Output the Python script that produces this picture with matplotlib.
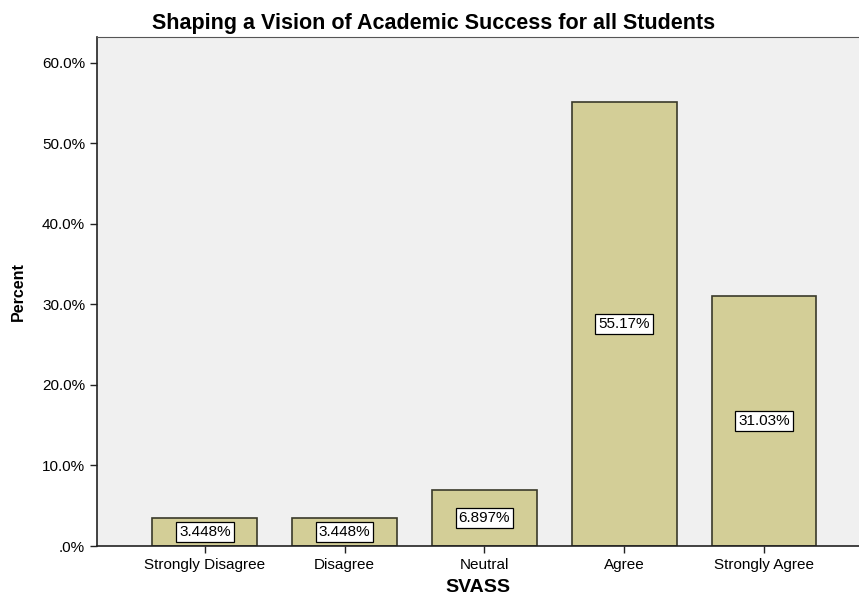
import matplotlib
matplotlib.use("Agg")
import matplotlib.pyplot as plt
from matplotlib.ticker import FuncFormatter

categories = ["Strongly Disagree", "Disagree", "Neutral", "Agree", "Strongly Agree"]
percents = [3.448, 3.448, 6.897, 55.17, 31.03]
bar_labels = ["3.448%", "3.448%", "6.897%", "55.17%", "31.03%"]
y_ticks = [0, 10, 20, 30, 40, 50, 60]

plt.rcParams["font.family"] = ["Liberation Sans", "DejaVu Sans"]


def pct_label(v, pos):
    if v == 0:
        return ".0%"
    return "%.1f%%" % v


def main():
    fig = plt.figure(figsize=(8.59, 5.99), dpi=100)
    ax = fig.add_axes([97 / 859, 53 / 599, 1 - 97 / 859, 509 / 599])
    ax.set_facecolor("#f0f0f0")

    x = list(range(len(categories)))
    ax.bar(x, percents, width=0.75, color="#d3ce97", edgecolor="#3a3a2a",
           linewidth=1.2, zorder=2)
    for i, v in enumerate(percents):
        ax.text(i, v / 2, bar_labels[i], ha="center", va="center", fontsize=11,
                zorder=3,
                bbox=dict(boxstyle="square,pad=0.2", fc="white", ec="black",
                          lw=0.9))

    ax.set_xlim(-0.771, 4.679)
    ax.set_ylim(0, 63.2)
    ax.set_yticks(y_ticks)
    ax.yaxis.set_major_formatter(FuncFormatter(pct_label))
    ax.set_xticks(x)
    ax.set_xticklabels(categories)
    ax.tick_params(axis="both", labelsize=11, length=5, width=1, color="#222222")

    ax.spines["right"].set_visible(False)
    ax.spines["top"].set_color("#555555")
    for s in ["left", "bottom"]:
        ax.spines[s].set_color("#222222")
        ax.spines[s].set_linewidth(1.2)

    ax.set_ylabel("Percent", fontsize=11.5, fontweight="bold", labelpad=12)
    ax.set_xlabel("SVASS", fontsize=14, fontweight="bold", labelpad=5)
    fig.text(434 / 859, 1 - 23 / 599, "Shaping a Vision of Academic Success for all Students",
             ha="center", va="center", fontsize=15.5, fontweight="bold")

    fig.savefig("out.png", dpi=100)


if __name__ == "__main__":
    main()
